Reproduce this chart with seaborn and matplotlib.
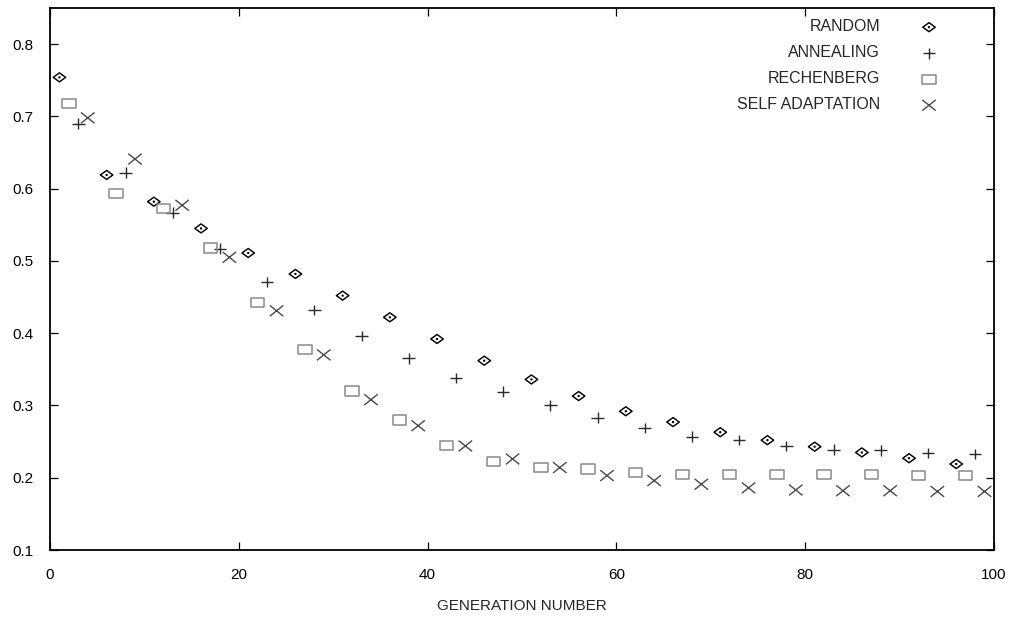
import numpy as np
import pandas as pd
import matplotlib
matplotlib.use("Agg")
import matplotlib.pyplot as plt
from matplotlib.path import Path
import seaborn as sns

# Generation numbers at which each strategy was sampled
gen_random = list(range(1, 97, 5))
gen_annealing = list(range(3, 99, 5))
gen_rechenberg = list(range(2, 98, 5))
gen_selfadapt = list(range(4, 100, 5))

# Best fitness per strategy
fit_random = [0.754, 0.619, 0.582, 0.545, 0.511, 0.482, 0.452, 0.422, 0.392, 0.362,
              0.336, 0.313, 0.292, 0.277, 0.263, 0.252, 0.243, 0.235, 0.227, 0.219]
fit_annealing = [0.690, 0.622, 0.567, 0.517, 0.471, 0.432, 0.396, 0.365, 0.338, 0.319,
                 0.300, 0.283, 0.269, 0.257, 0.252, 0.244, 0.239, 0.238, 0.234, 0.233]
fit_rechenberg = [0.718, 0.593, 0.572, 0.518, 0.442, 0.377, 0.320, 0.280, 0.245, 0.222,
                  0.214, 0.212, 0.207, 0.205, 0.204, 0.204, 0.204, 0.204, 0.203, 0.203]
fit_selfadapt = [0.698, 0.641, 0.577, 0.505, 0.431, 0.370, 0.308, 0.272, 0.244, 0.226,
                 0.214, 0.203, 0.196, 0.191, 0.186, 0.183, 0.182, 0.182, 0.181, 0.181]

strategies = ["RANDOM", "ANNEALING", "RECHENBERG", "SELF ADAPTATION"]
x_ticks = [0, 20, 40, 60, 80, 100]
y_ticks = [0.1, 0.2, 0.3, 0.4, 0.5, 0.6, 0.7, 0.8]

frames = []
for name, g, f in zip(strategies,
                      [gen_random, gen_annealing, gen_rechenberg, gen_selfadapt],
                      [fit_random, fit_annealing, fit_rechenberg, fit_selfadapt]):
    frames.append(pd.DataFrame({"generation": g, "fitness": f, "strategy": name}))
df = pd.concat(frames, ignore_index=True)

# Flattened diamond with a centre dot
d = 0.06
diamond_dot = Path(
    [(-1, 0), (0, 0.72), (1, 0), (0, -0.72), (-1, 0),
     (-d, -d), (d, -d), (d, d), (-d, d), (-d, -d)],
    [Path.MOVETO, Path.LINETO, Path.LINETO, Path.LINETO, Path.CLOSEPOLY,
     Path.MOVETO, Path.LINETO, Path.LINETO, Path.LINETO, Path.CLOSEPOLY])
# Wide open box
box = Path([(-1, -0.68), (1, -0.68), (1, 0.68), (-1, 0.68), (-1, -0.68)],
           [Path.MOVETO, Path.LINETO, Path.LINETO, Path.LINETO, Path.CLOSEPOLY])
# Slightly flattened cross
cross = Path([(-1, -0.8), (1, 0.8), (-1, 0.8), (1, -0.8)],
             [Path.MOVETO, Path.LINETO, Path.MOVETO, Path.LINETO])
plus = Path([(-1, 0), (1, 0), (0, -0.85), (0, 0.85)],
            [Path.MOVETO, Path.LINETO, Path.MOVETO, Path.LINETO])

styles = {
    "RANDOM": dict(marker=diamond_dot, color="#000000", size=12.5, lw=1.05),
    "ANNEALING": dict(marker=plus, color="#2a2a2a", size=12.5, lw=1.0),
    "RECHENBERG": dict(marker=box, color="#8a8a8a", size=13.5, lw=1.1),
    "SELF ADAPTATION": dict(marker=cross, color="#4a4a4a", size=13.5, lw=1.0),
}

sns.set_style("ticks")
plt.rcParams["font.family"] = ["Liberation Sans", "DejaVu Sans"]

fig = plt.figure(figsize=(10.18, 6.26), dpi=100)
ax = fig.add_axes([50 / 1018, 76 / 626, 944 / 1018, 542 / 626])

for name in strategies:
    st = styles[name]
    sub = df[df["strategy"] == name]
    sns.scatterplot(data=sub, x="generation", y="fitness", ax=ax,
                    marker=st["marker"],
                    s=(st["size"] * 0.72) ** 2,
                    color=st["color"], facecolor="none", edgecolor=st["color"],
                    linewidth=st["lw"], label=name, legend=False, zorder=3)

ax.set_xlim(0, 100)
ax.set_ylim(0.1, 0.85)
ax.set_xticks(x_ticks)
ax.set_xticklabels([str(v) for v in x_ticks])
ax.set_yticks(y_ticks)
ax.set_yticklabels([f"{v:.1f}" for v in y_ticks])
ax.tick_params(direction="in", length=6, width=0.9, colors="black",
               top=True, right=True, labelsize=11)
ax.tick_params(axis="x", pad=13)
ax.tick_params(axis="y", pad=12)
for sp in ax.spines.values():
    sp.set_visible(True)
    sp.set_color("black")
    sp.set_linewidth(1.3)

ax.set_xlabel("GENERATION NUMBER", fontsize=11, labelpad=12)
ax.set_ylabel("")

ax.legend(loc="upper right", bbox_to_anchor=(0.965, 0.979), frameon=False,
          markerfirst=False, fontsize=11.5, handlelength=4.0, handletextpad=1.05,
          labelspacing=0.69, borderaxespad=0, borderpad=0, scatterpoints=1)

fig.savefig("out.png", dpi=100, facecolor="white")
